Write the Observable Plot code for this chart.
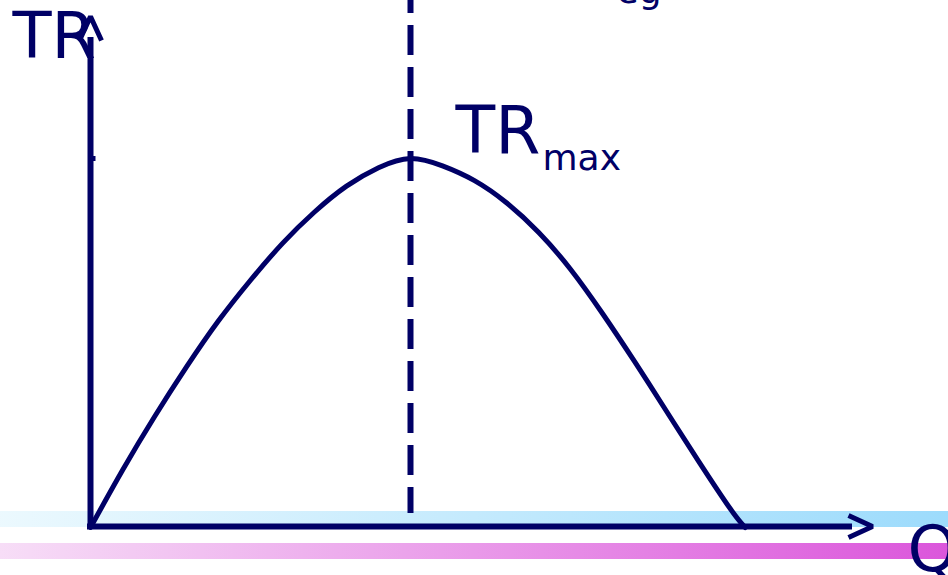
<!DOCTYPE html>
<html>
<head>
<meta charset="utf-8">
<script src="https://cdn.jsdelivr.net/npm/d3@7"></script>
<script src="https://cdn.jsdelivr.net/npm/@observablehq/plot@0.6"></script>
<style>
html, body { margin: 0; padding: 0; overflow: hidden; background: #ffffff; }
#chart svg { display: block; }
</style>
</head>
<body>
<div id="chart"></div>
<script>
// ---- data ----
const quantity     = [0, 0.5, 1, 1.5, 2, 2.5, 3, 3.5, 4, 4.5, 5, 5.5, 6, 6.5, 7, 7.5, 8, 8.5, 9, 9.5, 10, 10.23];
const totalRevenue = [0, 15.5, 30, 43.5, 56, 67, 77, 85.5, 92.5, 97.5, 100, 98, 94, 88, 80, 70, 58, 45, 31.5, 18, 5, 0];
const qAtMax = 5;        // quantity where TR peaks
const trMax = 100;       // peak total revenue
const axisLabels = ["TR", "Q"];
const peakLabel = ["TR", "max"];
const topFragment = ["eg"];

// ---- scales (pixels per unit) ----
const W = 948, H = 575;
const x0px = 90, y0px = 527, pxQ = 64, pxTR = 3.69;
const qOf = px => (px - x0px) / pxQ;
const tOf = py => (y0px - py) / pxTR;

const navy = "#000066";
const font = "DejaVu Sans, Verdana, sans-serif";

const curve = quantity.map((q, i) => ({q, tr: totalRevenue[i]}));

// axes geometry
const yShaft = [{q: 0, t1: tOf(529), t2: tOf(37)}];
const xShaft = [{t: tOf(526), q1: qOf(87), q2: qOf(852)}];
const yTip = {q: 0, t: tOf(16)};
const yChevron = [
  {q: yTip.q - 11 / pxQ, t: yTip.t - 24 / pxTR},
  {q: yTip.q, t: yTip.t},
  {q: yTip.q + 11 / pxQ, t: yTip.t - 24 / pxTR}
];
const xTip = {q: qOf(872), t: tOf(526)};
const xChevron = [
  {q: xTip.q - 24 / pxQ, t: xTip.t + 11 / pxTR},
  {q: xTip.q, t: xTip.t},
  {q: xTip.q - 24 / pxQ, t: xTip.t - 11 / pxTR}
];
const peakTick = [{t: trMax, q1: qOf(93), q2: qOf(95.5)}];
const dashed = [{q: qAtMax, t1: tOf(-17), t2: tOf(513)}];
const bands = [
  {q1: qOf(-5), q2: qOf(W + 5), t1: tOf(511), t2: tOf(527)},
  {q1: qOf(-5), q2: qOf(W + 5), t1: tOf(543), t2: tOf(559)}
];
const texts = [
  {q: qOf(12), t: tOf(57), text: axisLabels[0], size: 64},
  {q: qOf(907), t: tOf(570), text: axisLabels[1], size: 64},
  {q: qOf(455), t: tOf(152.5), text: peakLabel[0], size: 65},
  {q: qOf(542), t: tOf(169), text: peakLabel[1], size: 36},
  {q: qOf(616), t: tOf(2), text: topFragment[0], size: 36}
];

const chart = Plot.plot({
  width: W,
  height: H,
  margin: 0,
  x: {domain: [0, 10], range: [x0px, x0px + 10 * pxQ], axis: null},
  y: {domain: [0, trMax], range: [y0px, y0px - trMax * pxTR], axis: null},
  style: {background: "#ffffff", overflow: "hidden"},
  marks: [
    Plot.rect([bands[0]], {x1: "q1", x2: "q2", y1: "t1", y2: "t2", fill: "url(#bandBlue)"}),
    Plot.rect([bands[1]], {x1: "q1", x2: "q2", y1: "t1", y2: "t2", fill: "url(#bandPink)"}),
    Plot.ruleX(dashed, {x: "q", y1: "t1", y2: "t2", stroke: navy, strokeWidth: 6, strokeDasharray: "30,12"}),
    Plot.line(curve, {x: "q", y: "tr", stroke: navy, strokeWidth: 5, curve: "natural"}),
    Plot.ruleX(yShaft, {x: "q", y1: "t1", y2: "t2", stroke: navy, strokeWidth: 6}),
    Plot.ruleY(xShaft, {y: "t", x1: "q1", x2: "q2", stroke: navy, strokeWidth: 6}),
    Plot.ruleY(peakTick, {y: "t", x1: "q1", x2: "q2", stroke: navy, strokeWidth: 5}),
    Plot.line(yChevron, {x: "q", y: "t", stroke: navy, strokeWidth: 5, strokeLinejoin: "miter", strokeLinecap: "butt"}),
    Plot.line(xChevron, {x: "q", y: "t", stroke: navy, strokeWidth: 5, strokeLinejoin: "miter", strokeLinecap: "butt"}),
    Plot.text(texts, {x: "q", y: "t", text: "text", fontSize: "size", textAnchor: "start", lineAnchor: "bottom", fill: navy, fontFamily: font})
  ]
});

d3.select(chart).insert("defs", ":first-child").html(`
  <linearGradient id="bandBlue" x1="0" y1="0" x2="1" y2="0">
    <stop offset="0" stop-color="#ecf9fe"/>
    <stop offset="1" stop-color="#9cdbfc"/>
  </linearGradient>
  <linearGradient id="bandPink" x1="0" y1="0" x2="1" y2="0">
    <stop offset="0" stop-color="#f7def7"/>
    <stop offset="1" stop-color="#db55db"/>
  </linearGradient>
`);

document.getElementById("chart").appendChild(chart);
</script>
</body>
</html>
